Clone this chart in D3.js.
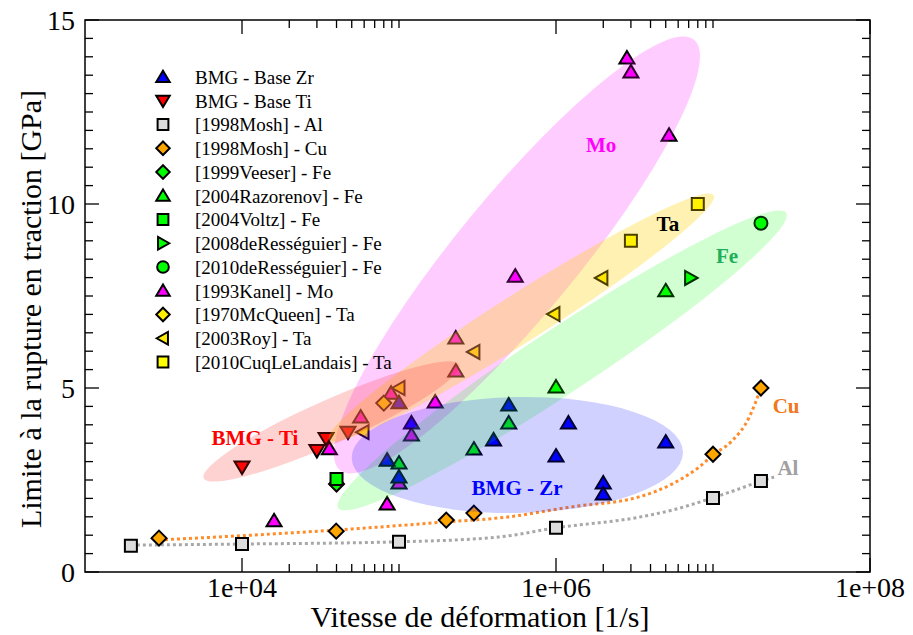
<!DOCTYPE html>
<html><head><meta charset="utf-8">
<script src="https://cdn.jsdelivr.net/npm/d3@7"></script>
<style>body{margin:0;background:#fff}svg{display:block}text{font-family:"Liberation Serif","Times New Roman",serif}</style>
</head><body>
<svg id="c" width="913" height="635"></svg>
<script>
// ---------- data (strain rate [1/s], stress [GPa]) ----------
const zrBMG   = [[8.4e4,3.04],[1e5,2.58],[1e5,4.6],[1.2e5,4.05],[4e5,3.59],[5e5,4.54],[1e6,3.15],[1.2e6,4.05],[2e6,2.42],[2e6,2.12],[5e6,3.53]];
const tiBMG   = [[1e4,2.85],[3e4,3.3],[3.43e4,3.63],[4.73e4,3.8]];
const moshAl  = [[1.96e3,0.71],[1e4,0.76],[1e5,0.82],[1e6,1.2],[1e7,2.01],[2.02e7,2.47]];
const moshCu  = [[2.96e3,0.92],[3.98e4,1.11],[2e5,1.41],[3e5,1.6],[1e7,3.2],[2.02e7,5.0]];
const veeserFe = [[4e4,2.39]];
const razorenovFe = [[1e5,2.96],[3e5,3.34],[5e5,4.05],[1e6,5.03],[5e6,7.64]];
const voltzFe = [[4e4,2.53]];
const deRess08Fe = [[7.2e6,7.99]];
const deRess10Fe = [[2.02e7,9.48]];
const kanelMo = [[2.83e6,13.97],[3e6,13.59],[5.25e6,11.87],[5.5e5,8.04],[2.3e5,6.36],[2.3e5,5.46],[1.7e5,4.62],[5.7e4,4.21],[8.9e4,4.86],[1.6e4,1.39],[8.4e4,1.85],[3.6e4,3.35],[1.2e5,3.72],[1e5,2.42]];
const mcqueenTa = [[8e4,4.59]];
const royTa   = [[5.9e4,3.8],[1e5,5.0],[3e5,5.98],[9.7e5,7.01],[1.96e6,7.99]];
const cuqTa   = [[3e6,9.0],[8e6,10.0]];
// dotted trend lines
const cuTrend = [[2.96e3,0.87],[3.97e4,1.14],[1.99e5,1.36],[4.8e5,1.49],[1.26e6,1.77],[3.38e6,2.04],[5.48e6,2.39],[8.15e6,2.85],[1e7,3.18],[1.32e7,3.56],[1.69e7,4.18],[2.02e7,5.0]];
const alTrend = [[1.96e3,0.73],[1e4,0.76],[1e5,0.82],[4.3e5,0.95],[1e6,1.2],[3.38e6,1.49],[5.48e6,1.68],[9.86e6,2.01],[1.47e7,2.26],[2.02e7,2.47],[2.45e7,2.58]];
// ellipses: major-axis ends in data coords
const ellipseNames = ["Mo","Ta","Fe","Zr","Ti"];
const ellipseEnds  = [[[4.2e4,2.77],[7.57e6,14.46]],[[3.58e4,3.59],[1.01e7,10.24]],[[4.1e4,1.74],[2.92e7,9.76]],[[5.0e4,3.10],[6.44e6,3.26]],[[5.7e3,2.55],[2.41e5,5.63]]];
const labelTexts = ["Mo","Ta","Fe","BMG - Ti","BMG - Zr","Cu","Al"];
const labelPos   = [[1.94e6,11.6],[5.16e6,9.46],[1.23e7,8.59],[1.21e4,3.64],[5.65e5,2.28],[2.92e7,4.51],[3.0e7,2.83]];
const xTickLabels = ["1e+04","1e+06","1e+08"];
const yTickLabels = ["0","5","10","15"];

// ---------- layout ----------
const L=85,R=870,T=20,B=572;
const svg=d3.select("#c");
const x=d3.scaleLog().domain([1e3,1e8]).range([L,R]);
const y=d3.scaleLinear().domain([0,15]).range([B,T]);

// trend lines
const line=d3.line().x(d=>x(d[0])).y(d=>y(d[1])).curve(d3.curveMonotoneX);
svg.append("path").attr("d",line(alTrend)).attr("fill","none").attr("stroke","#a8a8a8").attr("stroke-width",3).attr("stroke-dasharray","3 3");
svg.append("path").attr("d",line(cuTrend)).attr("fill","none").attr("stroke","#ff8c2a").attr("stroke-width",3).attr("stroke-dasharray","3 3");

// symbols
const shapes={
  up:"M0,-7L7.5,5.5L-7.5,5.5Z",
  down:"M0,7L7.5,-5.5L-7.5,-5.5Z",
  right:"M7,0L-5.5,-7L-5.5,7Z",
  left:"M-7,0L5.5,-7L5.5,7Z",
  square:"M-6,-6H6V6H-6Z",
  diamond:"M0,-7.5L7.5,0L0,7.5L-7.5,0Z",
  circle:"M6.5,0A6.5,6.5 0 1 1 -6.5,0A6.5,6.5 0 1 1 6.5,0Z"
};
const series=[
  {name:"BMG - Base Zr",data:zrBMG,shape:"up",color:"#0000ff"},
  {name:"BMG - Base Ti",data:tiBMG,shape:"down",color:"#ff0000"},
  {name:"[1998Mosh] - Al",data:moshAl,shape:"square",color:"#dcdcdc"},
  {name:"[1998Mosh] - Cu",data:moshCu,shape:"diamond",color:"#ffa500"},
  {name:"[1999Veeser] - Fe",data:veeserFe,shape:"diamond",color:"#00ff00"},
  {name:"[2004Razorenov] - Fe",data:razorenovFe,shape:"up",color:"#00ff00"},
  {name:"[2004Voltz] - Fe",data:voltzFe,shape:"square",color:"#00ff00"},
  {name:"[2008deRességuier] - Fe",data:deRess08Fe,shape:"right",color:"#00ff00"},
  {name:"[2010deRességuier] - Fe",data:deRess10Fe,shape:"circle",color:"#00ff00"},
  {name:"[1993Kanel] - Mo",data:kanelMo,shape:"up",color:"#ff00ff"},
  {name:"[1970McQueen] - Ta",data:mcqueenTa,shape:"diamond",color:"#ffee00"},
  {name:"[2003Roy] - Ta",data:royTa,shape:"left",color:"#ffee00"},
  {name:"[2010CuqLeLandais] - Ta",data:cuqTa,shape:"square",color:"#ffff00"}
];
const drawOrder=[2,3,4,6,9,5,0,1,10,11,12,7,8];
drawOrder.forEach(i=>{
  const s=series[i];
  svg.append("g").selectAll("path").data(s.data).join("path")
    .attr("d",shapes[s.shape]).attr("transform",d=>`translate(${x(d[0])},${y(d[1])})`)
    .attr("fill",s.color).attr("stroke","#000").attr("stroke-width",2).attr("stroke-linejoin","miter");
});

// ellipses on top
const eColors={Mo:["#ff00ff",0.2],Ta:["#ffd000",0.3],Fe:["#00ff00",0.18],Zr:["#0000ff",0.18],Ti:["#ff2020",0.2]};
const eMinor={Mo:60,Ta:24,Fe:32,Zr:58,Ti:22};
ellipseNames.forEach((n,i)=>{
  const [a,b]=ellipseEnds[i];
  const x1=x(a[0]),y1=y(a[1]),x2=x(b[0]),y2=y(b[1]);
  const cx=(x1+x2)/2,cy=(y1+y2)/2,rx=Math.hypot(x2-x1,y2-y1)/2;
  const ang=Math.atan2(y2-y1,x2-x1)*180/Math.PI;
  svg.append("ellipse").attr("cx",0).attr("cy",0).attr("rx",rx).attr("ry",eMinor[n])
    .attr("transform",`translate(${cx},${cy}) rotate(${ang})`)
    .attr("fill",eColors[n][0]).attr("fill-opacity",eColors[n][1]);
});

// labels
const labelColors=["#ff00ff","#000000","#1fae5a","#ff0000","#0000ff","#f07820","#a0a0a0"];
labelTexts.forEach((t,i)=>{
  svg.append("text").attr("x",x(labelPos[i][0])).attr("y",y(labelPos[i][1])).attr("dy","0.35em")
    .attr("text-anchor","middle").attr("font-size",21).attr("font-weight","bold")
    .attr("fill",labelColors[i]).text(t);
});

// legend
series.forEach((s,i)=>{
  const ly=77+i*23.75;
  svg.append("path").attr("d",shapes[s.shape]).attr("transform",`translate(163,${ly}) scale(0.9)`)
    .attr("fill",s.color).attr("stroke","#000").attr("stroke-width",2.2);
  svg.append("text").attr("x",195).attr("y",ly).attr("dy","0.36em").attr("font-size",19).attr("fill","#000").text(s.name);
});

// frame + ticks
svg.append("rect").attr("x",L).attr("y",T).attr("width",R-L).attr("height",B-T).attr("fill","none").attr("stroke","#000").attr("stroke-width",1.5);
const majX=[1e4,1e6,1e8], minX=[];
[1e4,1e6].forEach(b=>{for(let k=2;k<=10;k++)minX.push(k*b);});
const tk=svg.append("g").attr("stroke","#000").attr("stroke-width",1.3);
majX.forEach(v=>{tk.append("line").attr("x1",x(v)).attr("x2",x(v)).attr("y1",B).attr("y2",B-14);tk.append("line").attr("x1",x(v)).attr("x2",x(v)).attr("y1",T).attr("y2",T+14);});
minX.forEach(v=>{tk.append("line").attr("x1",x(v)).attr("x2",x(v)).attr("y1",B).attr("y2",B-8);tk.append("line").attr("x1",x(v)).attr("x2",x(v)).attr("y1",T).attr("y2",T+8);});
const majY=[0,5,10,15]; const minY=d3.range(0.5,15,0.5).filter(v=>v%5!==0);
majY.forEach(v=>{tk.append("line").attr("y1",y(v)).attr("y2",y(v)).attr("x1",L).attr("x2",L+14);tk.append("line").attr("y1",y(v)).attr("y2",y(v)).attr("x1",R).attr("x2",R-14);});
minY.forEach(v=>{tk.append("line").attr("y1",y(v)).attr("y2",y(v)).attr("x1",L).attr("x2",L+8);tk.append("line").attr("y1",y(v)).attr("y2",y(v)).attr("x1",R).attr("x2",R-8);});
// tick labels
xTickLabels.forEach((t,i)=>svg.append("text").attr("x",x(majX[i])).attr("y",597).attr("text-anchor","middle").attr("font-size",28).text(t));
yTickLabels.forEach((t,i)=>svg.append("text").attr("x",L-10).attr("y",y(majY[i])).attr("dy","0.35em").attr("text-anchor","end").attr("font-size",28).text(t));
// axis titles
svg.append("text").attr("x",480).attr("y",627).attr("text-anchor","middle").attr("font-size",30).text("Vitesse de déformation [1/s]");
svg.append("text").attr("transform","translate(41,309) rotate(-90)").attr("text-anchor","middle").attr("font-size",30).text("Limite à la rupture en traction [GPa]");
</script>
</body></html>
